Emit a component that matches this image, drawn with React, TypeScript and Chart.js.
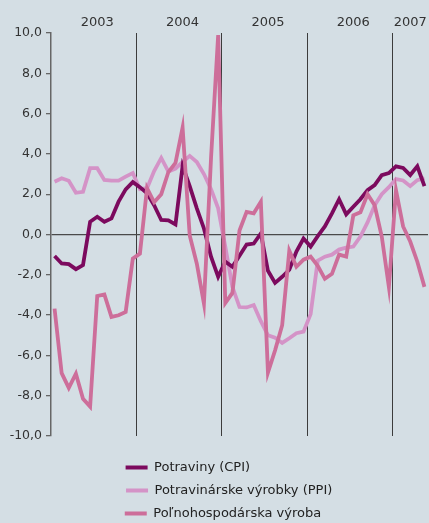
import React, { useEffect, useRef } from 'react';
import { Chart, registerables } from 'chart.js';

Chart.register(...registerables);

// Monthly categories, Jan 2003 – May 2007
const months = [
  '2003-01', '2003-02', '2003-03', '2003-04', '2003-05', '2003-06', '2003-07', '2003-08', '2003-09', '2003-10', '2003-11', '2003-12',
  '2004-01', '2004-02', '2004-03', '2004-04', '2004-05', '2004-06', '2004-07', '2004-08', '2004-09', '2004-10', '2004-11', '2004-12',
  '2005-01', '2005-02', '2005-03', '2005-04', '2005-05', '2005-06', '2005-07', '2005-08', '2005-09', '2005-10', '2005-11', '2005-12',
  '2006-01', '2006-02', '2006-03', '2006-04', '2006-05', '2006-06', '2006-07', '2006-08', '2006-09', '2006-10', '2006-11', '2006-12',
  '2007-01', '2007-02', '2007-03', '2007-04', '2007-05',
];

// Potraviny (CPI)
const cpi = [
  -1.07, -1.44, -1.47, -1.72, -1.52, 0.63, 0.88, 0.63, 0.8, 1.63, 2.24, 2.6,
  2.35, 2.05, 1.45, 0.72, 0.7, 0.5, 3.4, 2.4, 1.3, 0.3, -1.1, -2.1,
  -1.35, -1.6, -1.05, -0.5, -0.45, 0.05, -1.8, -2.4, -2.1, -1.75, -0.85, -0.2,
  -0.6, -0.08, 0.4, 1.05, 1.75, 1.0, 1.38, 1.75, 2.2, 2.45, 2.95, 3.05,
  3.38, 3.3, 2.95, 3.38, 2.4,
];

// Potravinárske výrobky (PPI)
const ppi = [
  2.62, 2.79, 2.67, 2.07, 2.12, 3.29, 3.29, 2.71, 2.67, 2.67, 2.87, 3.05,
  2.25, 2.3, 3.15, 3.8, 3.12, 3.27, 3.6, 3.9, 3.6, 3.0, 2.25, 1.3,
  -0.6, -2.6, -3.6, -3.62, -3.5, -4.3, -5.0, -5.12, -5.38, -5.15, -4.9, -4.82,
  -3.95, -1.3, -1.1, -1.0, -0.75, -0.65, -0.6, -0.1, 0.6, 1.45, 2.0, 2.35,
  2.75, 2.68, 2.4, 2.7, 2.8,
];

// Poľnohospodárska výroba
const agri = [
  -3.68, -6.88, -7.61, -6.91, -8.15, -8.54, -3.05, -2.98, -4.09, -4.01, -3.84, -1.2,
  -0.95, 2.3, 1.6, 2.0, 3.1, 3.55, 5.3, -0.05, -1.45, -3.43, 3.8, 9.9,
  -3.4, -2.9, 0.2, 1.12, 1.05, 1.62, -6.85, -5.75, -4.5, -0.8, -1.6, -1.25,
  -1.1, -1.55, -2.2, -1.95, -1.0, -1.1, 0.95, 1.1, 2.0, 1.45, -0.1, -2.6,
  2.2, 0.4, -0.35, -1.35, -2.6,
];

const seriesNames = ['Potraviny (CPI)', 'Potravinárske výrobky (PPI)', 'Poľnohospodárska výroba'];
const seriesColors = ['#7c0a5e', '#d493c7', '#cd6e9a'];

const Y_MIN = -10;
const Y_MAX = 10;
const Y_STEP = 2;

const FONT = 'DejaVu Sans';

// index of the middle month of each year (where the year label sits)
const yearLabelAt: Record<number, string> = (() => {
  const groups: Record<string, number[]> = {};
  months.forEach((m, i) => {
    const y = m.slice(0, 4);
    (groups[y] = groups[y] || []).push(i);
  });
  const out: Record<number, string> = {};
  Object.keys(groups).forEach((y) => {
    const idx = groups[y];
    out[idx[Math.floor(idx.length / 2)]] = y;
  });
  return out;
})();

export default function App() {
  const ref = useRef<HTMLCanvasElement | null>(null);

  useEffect(() => {
    if (!ref.current) return;
    const legendFont = { family: FONT, size: 13 };
    const chart = new Chart(ref.current, {
      type: 'line',
      data: {
        labels: months,
        datasets: [
          { label: seriesNames[0], data: cpi, borderColor: seriesColors[0], backgroundColor: seriesColors[0], order: 1 },
          { label: seriesNames[1], data: ppi, borderColor: seriesColors[1], backgroundColor: seriesColors[1], order: 2 },
          { label: seriesNames[2], data: agri, borderColor: seriesColors[2], backgroundColor: seriesColors[2], order: 0 },
        ].map((d) => ({ ...d, borderWidth: 3.8, pointRadius: 0, pointHoverRadius: 0, tension: 0, fill: false })),
      },
      options: {
        responsive: false,
        animation: false,
        events: [],
        layout: { padding: { left: 0, right: 1, top: 0, bottom: 0 } },
        scales: {
          x: {
            position: 'top',
            offset: true,
            afterFit: (s: any) => { s.height = 33; },
            grid: {
              offset: true,
              drawTicks: false,
              lineWidth: 1,
              color: (ctx: any) => (ctx.index > 0 && ctx.index % 12 === 0 ? '#3c3c3c' : 'rgba(0,0,0,0)'),
            },
            border: { display: false },
            ticks: {
              autoSkip: false,
              maxRotation: 0,
              minRotation: 0,
              padding: 3,
              color: '#333',
              font: { family: FONT, size: 13 },
              callback: (_v: any, i: number) => yearLabelAt[i] || '',
            },
          },
          y: {
            min: Y_MIN,
            max: Y_MAX,
            afterFit: (s: any) => { s.width = 51; },
            ticks: {
              stepSize: Y_STEP,
              padding: 4,
              color: '#333',
              font: { family: FONT, size: 12.5 },
              callback: (v: any) => Number(v).toFixed(1).replace('.', ','),
            },
            grid: {
              tickLength: 5,
              tickColor: '#666',
              lineWidth: 1.3,
              color: (ctx: any) => (ctx.tick && ctx.tick.value === 0 ? '#4a4a4a' : 'rgba(0,0,0,0)'),
            },
            border: { display: true, color: '#666', width: 1.5 },
          },
        },
        plugins: {
          tooltip: { enabled: false },
          legend: {
            position: 'bottom',
            fullSize: false,
            align: 'center',
            title: { display: true, text: '', padding: 0, font: { size: 12, lineHeight: 1.25 } },
            labels: {
              boxWidth: 22,
              boxHeight: 4,
              padding: 10,
              color: '#222',
              font: legendFont,
              generateLabels: (c: any) => {
                const items = Chart.defaults.plugins.legend.labels.generateLabels(c);
                items.sort((a: any, b: any) => a.datasetIndex - b.datasetIndex);
                const g = c.ctx;
                g.save();
                g.font = `${legendFont.size}px "${FONT}"`;
                items.forEach((it: any) => {
                  let t = it.text;
                  while (g.measureText(t).width < 198) t += ' ';
                  it.text = t;
                  it.lineWidth = 0;
                  it.fillStyle = seriesColors[it.datasetIndex];
                  it.strokeStyle = seriesColors[it.datasetIndex];
                });
                g.restore();
                return items;
              },
            },
          },
        },
      },
    } as any);
    return () => chart.destroy();
  }, []);

  return (
    <div
      style={{
        position: 'absolute',
        left: 0,
        top: 0,
        width: 429,
        height: 523,
        overflow: 'hidden',
        background: '#d4dee4',
      }}
    >
      <canvas ref={ref} width={429} height={530} style={{ display: 'block' }} />
    </div>
  );
}
